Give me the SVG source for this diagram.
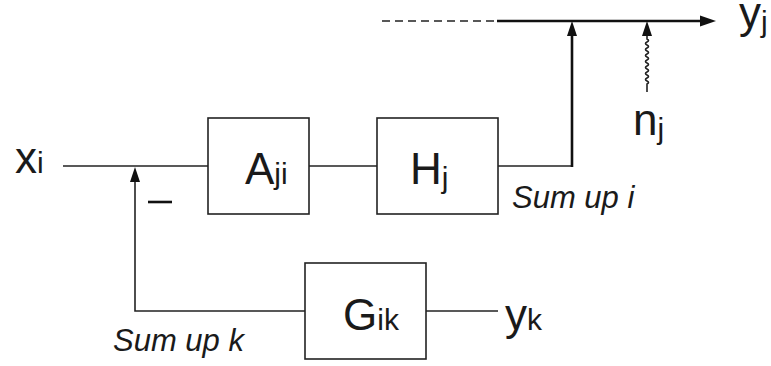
<svg xmlns="http://www.w3.org/2000/svg" width="771" height="366" viewBox="0 0 771 366">
<defs>
<style>
.box{fill:#fff;stroke:#222;stroke-width:1.6}
.ln{fill:none;stroke:#222;stroke-width:1.6}
.thk{fill:none;stroke:#111;stroke-width:2.6}
.big{font-family:"Liberation Sans",Arial,sans-serif;font-size:44px;fill:#1a1a1a}
.sub{font-size:30px}
.lab{font-family:"Liberation Sans",Arial,sans-serif;font-size:31px;font-style:italic;fill:#1a1a1a}
.ah{fill:#111}
</style>
</defs>
<g id="connectors">
<line class="ln" x1="63" y1="166" x2="208" y2="166"/>
<line class="ln" x1="309" y1="166" x2="377" y2="166"/>
<polyline class="ln" points="498,166 572,166"/>
<line class="thk" x1="572" y1="167" x2="572" y2="34"/>
<polygon class="ah" points="572,21 567,36 577,36"/>
<line x1="382" y1="21" x2="497" y2="21" stroke="#222" stroke-width="1.6" stroke-dasharray="8,5"/>
<line class="thk" x1="497" y1="21" x2="702" y2="21"/>
<polygon class="ah" points="716,21 700,15.5 700,26.5"/>
<path class="ln" stroke-width="1.3" d="M647,92 L647,84 q3,-1.5 0,-3 q-3,-1.5 0,-3 q3,-1.5 0,-3 q-3,-1.5 0,-3 q3,-1.5 0,-3 q-3,-1.5 0,-3 q3,-1.5 0,-3 q-3,-1.5 0,-3 q3,-1.5 0,-3 q-3,-1.5 0,-3 q3,-1.5 0,-3 q-3,-1.5 0,-3 q3,-1.5 0,-3 q-3,-1.5 0,-3 q3,-1.5 0,-3 L647,34"/>
<polygon class="ah" points="647,21 642,36 652,36"/>
<polyline class="ln" points="305,311 135,311 135,180"/>
<polygon class="ah" points="135,167 130,182 140,182"/>
<line class="ln" x1="426" y1="311" x2="498" y2="311"/>
<line x1="148" y1="202" x2="172" y2="202" stroke="#111" stroke-width="2.6"/>
</g>
<g id="node-A">
<rect class="box" x="208" y="118" width="101" height="96"/>
<text class="big" x="245" y="184">A<tspan class="sub">ji</tspan></text>
</g>
<g id="node-H">
<rect class="box" x="377" y="118" width="121" height="96"/>
<text class="big" x="410" y="184">H<tspan class="sub" dy="4">j</tspan></text>
</g>
<g id="node-G">
<rect class="box" x="305" y="263" width="121" height="96"/>
<text class="big" x="343" y="330">G<tspan class="sub">ik</tspan></text>
</g>
<g id="labels">
<text class="big" x="15" y="173">x<tspan class="sub">i</tspan></text>
<text class="big" x="739" y="28">y<tspan class="sub" dy="4">j</tspan></text>
<text class="big" x="633" y="135">n<tspan class="sub" dy="4">j</tspan></text>
<text class="big" x="505" y="330">y<tspan class="sub">k</tspan></text>
<text class="lab" x="512" y="208">Sum up i</text>
<text class="lab" x="113" y="351">Sum up k</text>
</g>
</svg>
